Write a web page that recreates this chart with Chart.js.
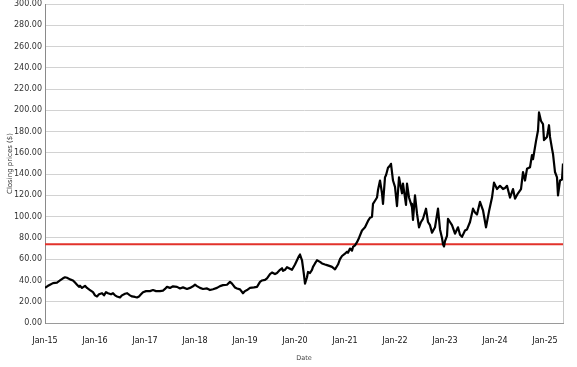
<!DOCTYPE html>
<html>
<head>
<meta charset="utf-8">
<title>Closing prices</title>
<script src="https://cdn.jsdelivr.net/npm/chart.js@4.4.1/dist/chart.umd.min.js"></script>
<style>
  body { margin: 0; background: #fff; }
  canvas { display: block; }
</style>
</head>
<body>
<canvas id="graficoPrecos" width="577" height="367"></canvas>
<script>
// Dates as fractional years, closes
const dates = [
  2015.00, 2015.06, 2015.10, 2015.16, 2015.24, 2015.30, 2015.36, 2015.40, 2015.44, 2015.50,
  2015.56, 2015.60, 2015.64, 2015.68, 2015.70, 2015.74, 2015.80, 2015.84, 2015.90, 2015.96,
  2016.00, 2016.04, 2016.08, 2016.14, 2016.18, 2016.22, 2016.26, 2016.32, 2016.36, 2016.40,
  2016.44, 2016.50, 2016.54, 2016.60, 2016.64, 2016.70, 2016.74, 2016.80, 2016.84, 2016.88,
  2016.92, 2016.96, 2017.02, 2017.10, 2017.16, 2017.22, 2017.30, 2017.36, 2017.40, 2017.44,
  2017.50, 2017.56, 2017.64, 2017.70, 2017.76, 2017.84, 2017.90, 2017.96, 2018.00, 2018.04,
  2018.10, 2018.16, 2018.24, 2018.30, 2018.36, 2018.44, 2018.50, 2018.56, 2018.64, 2018.70,
  2018.74, 2018.80, 2018.84, 2018.90, 2018.96, 2019.00, 2019.04, 2019.10, 2019.18, 2019.24,
  2019.30, 2019.34, 2019.40, 2019.44, 2019.50, 2019.54, 2019.60, 2019.64, 2019.70, 2019.74,
  2019.76, 2019.80, 2019.84, 2019.90, 2019.94, 2020.00, 2020.04, 2020.08, 2020.10, 2020.14,
  2020.16, 2020.18, 2020.20, 2020.24, 2020.26, 2020.30, 2020.34, 2020.36, 2020.40, 2020.44,
  2020.50, 2020.54, 2020.60, 2020.64, 2020.70, 2020.74, 2020.80, 2020.86, 2020.90, 2020.94,
  2021.00, 2021.04, 2021.06, 2021.10, 2021.14, 2021.16, 2021.20, 2021.24, 2021.28, 2021.34,
  2021.40, 2021.46, 2021.50, 2021.54, 2021.56, 2021.60, 2021.64, 2021.66, 2021.70, 2021.74,
  2021.76, 2021.80, 2021.82, 2021.86, 2021.90, 2021.92, 2021.96, 2022.00, 2022.04, 2022.08,
  2022.14, 2022.16, 2022.22, 2022.24, 2022.28, 2022.32, 2022.34, 2022.36, 2022.40, 2022.44,
  2022.48, 2022.52, 2022.56, 2022.62, 2022.66, 2022.70, 2022.74, 2022.80, 2022.86, 2022.90,
  2022.94, 2022.96, 2022.98, 2023.00, 2023.04, 2023.06, 2023.10, 2023.14, 2023.20, 2023.26,
  2023.30, 2023.34, 2023.40, 2023.44, 2023.50, 2023.56, 2023.60, 2023.64, 2023.70, 2023.76,
  2023.82, 2023.88, 2023.94, 2023.98, 2024.04, 2024.10, 2024.16, 2024.20, 2024.24, 2024.30,
  2024.36, 2024.40, 2024.46, 2024.52, 2024.56, 2024.60, 2024.64, 2024.70, 2024.74, 2024.76,
  2024.82, 2024.86, 2024.88, 2024.92, 2024.96, 2024.98, 2025.04, 2025.08, 2025.10, 2025.14,
  2025.16, 2025.20, 2025.24, 2025.26, 2025.30, 2025.34, 2025.36
];

const closes = [
  33, 35, 36, 37.5, 38, 40, 42, 43, 42.5, 41,
  40, 38, 36, 34, 35, 33, 35, 33, 31, 29,
  26, 25, 27, 28, 26, 29, 28, 27, 28, 26,
  25, 24, 26, 27.5, 28, 26, 25, 24.5, 24, 25,
  27, 29, 30, 30, 31, 30, 30, 30.5, 32, 34,
  33, 34.5, 34, 32.5, 33.5, 32, 33, 34.5, 36, 34.7,
  33, 32, 32.5, 31, 31.8, 33, 34.7, 35.6, 36, 38.7,
  37, 33.4, 32.5, 31.6, 28, 30, 31, 33, 33.5, 34,
  38.7, 40, 40.5, 42, 46, 47.5, 46, 47, 50, 51.5,
  49, 50, 52.5, 51, 50, 55, 59, 63, 64.4, 59,
  52, 45, 37, 43, 48, 47, 50, 52.8, 56, 59,
  57.5, 56, 55, 54.4, 53.5, 52.8, 50.5, 55, 60, 63,
  65.3, 67, 66, 70, 68, 71.5, 73, 76, 80, 87,
  90, 96, 99, 100, 112, 115, 118, 125, 134, 122,
  112, 137, 139, 146, 148, 149.7, 134, 128, 110, 137,
  122, 131, 111, 131, 118, 112, 109, 97, 120, 103,
  90, 95, 98, 107.5, 95, 92, 85, 90, 107.5, 88,
  80, 74, 72, 77, 82, 98, 95, 92, 84, 90,
  83, 81, 87, 88, 95, 107.5, 104, 102, 114, 106,
  90, 105, 118, 132, 126, 129, 126, 127, 129, 118,
  126, 117, 122, 126, 142, 134, 145, 146.5, 158, 154,
  171, 181, 198, 190, 187, 172, 175, 186, 175, 164,
  159, 142, 137, 120, 134, 135, 150
];

const tickYears = [2015, 2016, 2017, 2018, 2019, 2020, 2021, 2022, 2023, 2024, 2025];
const tickLabels = ['Jan-15', 'Jan-16', 'Jan-17', 'Jan-18', 'Jan-19', 'Jan-20',
  'Jan-21', 'Jan-22', 'Jan-23', 'Jan-24', 'Jan-25'];

const thresholdPrice = 74;
const dateMin = 2015.00;
const dateMax = 2025.36;

function renderizarGrafico(canvasId = 'graficoPrecos') {
  const canvas = document.getElementById(canvasId);
  if (!canvas) return;
  const ctx = canvas.getContext('2d');

  const fonte = 'DejaVu Sans';

  // right edge of the plot box
  const bordaDireita = {
    id: 'bordaDireita',
    afterDraw(chart) {
      const { ctx, chartArea } = chart;
      ctx.save();
      ctx.strokeStyle = '#c8c8c8';
      ctx.lineWidth = 1;
      ctx.beginPath();
      ctx.moveTo(chartArea.right + 0.5, chartArea.top);
      ctx.lineTo(chartArea.right + 0.5, chartArea.bottom);
      ctx.stroke();
      ctx.restore();
    }
  };

  const config = {
    type: 'line',
    data: {
      datasets: [
        {
          label: 'Close',
          data: dates.map((d, i) => ({ x: d, y: closes[i] })),
          borderColor: '#000000',
          borderWidth: 2.2,
          borderJoinStyle: 'round',
          pointRadius: 0,
          tension: 0
        },
        {
          label: 'Threshold',
          data: [{ x: dateMin, y: thresholdPrice }, { x: dateMax, y: thresholdPrice }],
          borderColor: '#e2322b',
          borderWidth: 2,
          pointRadius: 0
        }
      ]
    },
    options: {
      responsive: false,
      animation: false,
      layout: { padding: { top: 4, right: 14, left: 0, bottom: 0 } },
      plugins: {
        legend: { display: false },
        tooltip: { enabled: false }
      },
      scales: {
        x: {
          type: 'linear',
          min: dateMin,
          max: dateMax,
          grid: { display: false },
          border: { display: true, color: '#9a9a9a', width: 1 },
          afterBuildTicks: (scale) => {
            scale.ticks = tickYears.map((v) => ({ value: v }));
          },
          afterFit: (scale) => {
            scale.height = 44;
            scale.paddingLeft = 0;
            scale.paddingRight = 0;
          },
          ticks: {
            autoSkip: false,
            maxRotation: 0,
            padding: 5,
            color: '#111',
            font: { family: fonte, size: 8 },
            callback: (value) => tickLabels[tickYears.indexOf(value)]
          },
          title: {
            display: true,
            text: 'Date',
            color: '#444',
            font: { family: fonte, size: 6.5 },
            padding: { top: 0, bottom: 5 }
          }
        },
        y: {
          min: 0,
          max: 300,
          grid: { color: '#d2d2d2', lineWidth: 1, drawTicks: false },
          border: { display: true, color: '#8a8a8a', width: 1 },
          afterFit: (scale) => {
            scale.width = 45;
            scale.paddingTop = 0;
            scale.paddingBottom = 0;
          },
          ticks: {
            stepSize: 20,
            padding: 3,
            color: '#333',
            font: { family: fonte, size: 8 },
            callback: (value) => value.toFixed(2)
          },
          title: {
            display: true,
            text: 'Closing prices ($)',
            color: '#333',
            font: { family: fonte, size: 7 },
            padding: { top: 6, bottom: 0 }
          }
        }
      }
    },
    plugins: [bordaDireita]
  };

  if (window._graficoPrecos instanceof Chart) {
    window._graficoPrecos.destroy();
  }
  window._graficoPrecos = new Chart(ctx, config);
}

renderizarGrafico();
</script>
</body>
</html>
